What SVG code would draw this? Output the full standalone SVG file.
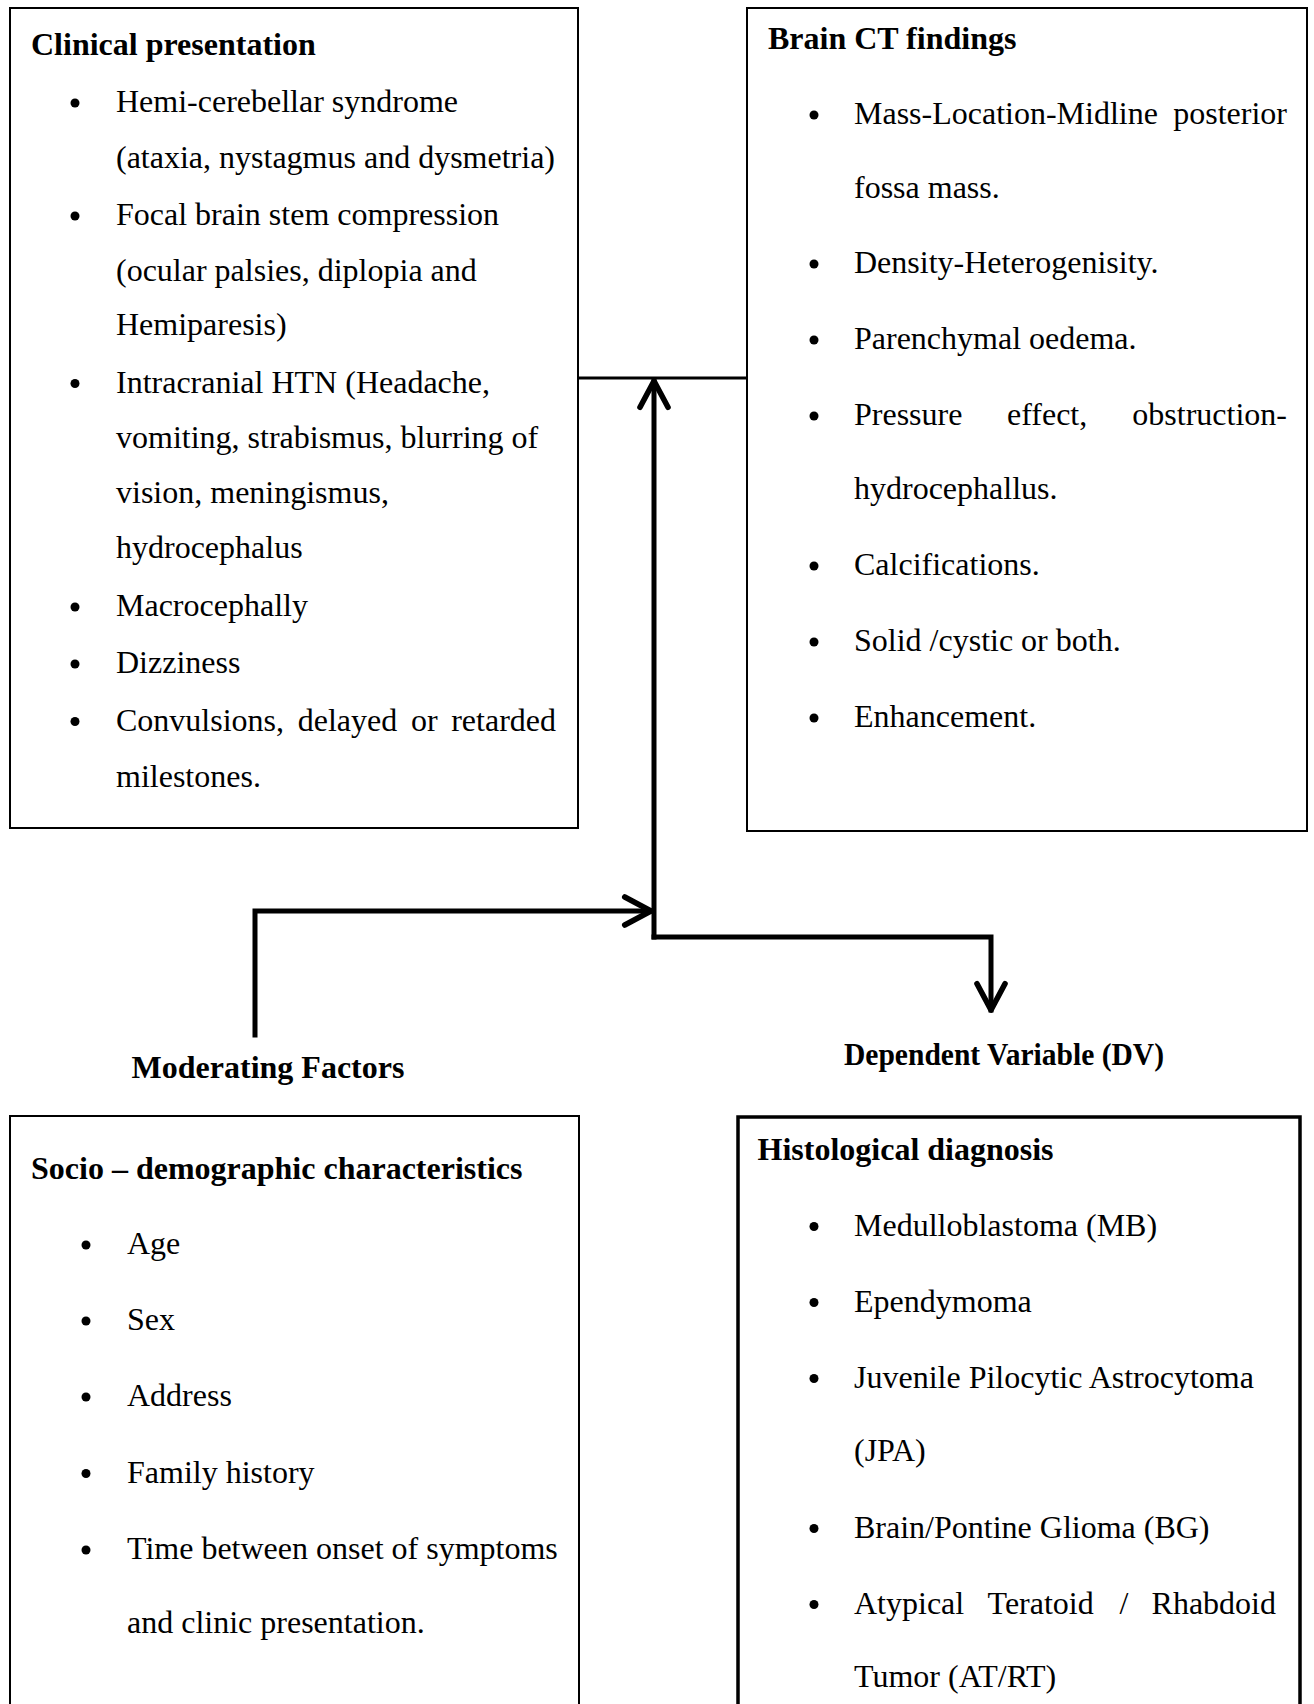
<svg xmlns="http://www.w3.org/2000/svg" width="1314" height="1704" viewBox="0 0 1314 1704">
<style>
text{font-family:"Liberation Serif","Times New Roman",serif;font-size:32px;fill:#000}
.b{font-weight:bold}
.box{fill:#fff;stroke:#000;stroke-width:2}
.box2{fill:#fff;stroke:#000;stroke-width:3.5}
.con{fill:none;stroke:#000;stroke-width:5;stroke-linecap:square;stroke-linejoin:miter}
.thin{fill:none;stroke:#000;stroke-width:3}
.dot{fill:#000}
</style>
<defs>
<marker id="chev" viewBox="0 0 20 20" refX="18" refY="10" markerWidth="7" markerHeight="7" markerUnits="strokeWidth" orient="auto">
<path d="M3,2 L18,10 L3,18" fill="none" stroke="#000" stroke-width="3.2" stroke-linecap="round" stroke-linejoin="round"/>
</marker>
</defs>
<rect width="1314" height="1704" fill="#fff"/>

<g id="clinical">
<rect class="box" x="10" y="8" width="568" height="820"/>
<text class="b" x="31" y="55">Clinical presentation</text>
<circle class="dot" cx="75" cy="103" r="4.5"/>
<text x="116" y="112">Hemi-cerebellar syndrome</text>
<text x="116" y="167.5">(ataxia, nystagmus and dysmetria)</text>
<circle class="dot" cx="75" cy="216" r="4.5"/>
<text x="116" y="225">Focal brain stem compression</text>
<text x="116" y="280.5">(ocular palsies, diplopia and</text>
<text x="116" y="335">Hemiparesis)</text>
<circle class="dot" cx="75" cy="383.5" r="4.5"/>
<text x="116" y="392.5">Intracranial HTN (Headache,</text>
<text x="116" y="448">vomiting, strabismus, blurring of</text>
<text x="116" y="503">vision, meningismus,</text>
<text x="116" y="557.5">hydrocephalus</text>
<circle class="dot" cx="75" cy="607" r="4.5"/>
<text x="116" y="616">Macrocephally</text>
<circle class="dot" cx="75" cy="664" r="4.5"/>
<text x="116" y="673">Dizziness</text>
<circle class="dot" cx="75" cy="721.5" r="4.5"/>
<text y="730.5"><tspan x="116">Convulsions,</tspan><tspan x="297.7">delayed</tspan><tspan x="411">or</tspan><tspan x="556" text-anchor="end">retarded</tspan></text>
<text x="116" y="787">milestones.</text>
</g>

<g id="brainct">
<rect class="box" x="747" y="8" width="560" height="823"/>
<text class="b" x="768" y="49">Brain CT findings</text>
<circle class="dot" cx="814" cy="115" r="4.5"/>
<text y="124"><tspan x="854">Mass-Location-Midline</tspan><tspan x="1287" text-anchor="end">posterior</tspan></text>
<text x="854" y="198">fossa mass.</text>
<circle class="dot" cx="814" cy="264" r="4.5"/>
<text x="854" y="273">Density-Heterogenisity.</text>
<circle class="dot" cx="814" cy="340" r="4.5"/>
<text x="854" y="349">Parenchymal oedema.</text>
<circle class="dot" cx="814" cy="416" r="4.5"/>
<text y="425"><tspan x="854">Pressure</tspan><tspan x="1007">effect,</tspan><tspan x="1287" text-anchor="end">obstruction-</tspan></text>
<text x="854" y="499">hydrocephallus.</text>
<circle class="dot" cx="814" cy="566" r="4.5"/>
<text x="854" y="575">Calcifications.</text>
<circle class="dot" cx="814" cy="642" r="4.5"/>
<text x="854" y="651">Solid /cystic or both.</text>
<circle class="dot" cx="814" cy="718" r="4.5"/>
<text x="854" y="727">Enhancement.</text>
</g>

<g id="moderating">
<text class="b" x="268" y="1078" text-anchor="middle">Moderating Factors</text>
</g>

<g id="dv">
<text class="b" x="1004" y="1065" text-anchor="middle" textLength="320" lengthAdjust="spacingAndGlyphs">Dependent Variable (DV)</text>
</g>

<g id="socio">
<rect class="box" x="10" y="1116" width="569" height="620"/>
<text class="b" x="31" y="1179">Socio – demographic characteristics</text>
<circle class="dot" cx="86" cy="1245" r="4.5"/>
<text x="127" y="1254">Age</text>
<circle class="dot" cx="86" cy="1321" r="4.5"/>
<text x="127" y="1330">Sex</text>
<circle class="dot" cx="86" cy="1397" r="4.5"/>
<text x="127" y="1406">Address</text>
<circle class="dot" cx="86" cy="1473.5" r="4.5"/>
<text x="127" y="1482.5">Family history</text>
<circle class="dot" cx="86" cy="1550" r="4.5"/>
<text x="127" y="1559">Time between onset of symptoms</text>
<text x="127" y="1632.5">and clinic presentation.</text>
</g>

<g id="histological">
<rect class="box2" x="738" y="1117" width="562" height="620"/>
<text class="b" x="757.5" y="1159.5">Histological diagnosis</text>
<circle class="dot" cx="814" cy="1226.5" r="4.5"/>
<text x="854" y="1235.5">Medulloblastoma (MB)</text>
<circle class="dot" cx="814" cy="1302.5" r="4.5"/>
<text x="854" y="1311.5">Ependymoma</text>
<circle class="dot" cx="814" cy="1378.5" r="4.5"/>
<text x="854" y="1387.5">Juvenile Pilocytic Astrocytoma</text>
<text x="854" y="1460.5">(JPA)</text>
<circle class="dot" cx="814" cy="1528.5" r="4.5"/>
<text x="854" y="1537.5">Brain/Pontine Glioma (BG)</text>
<circle class="dot" cx="814" cy="1604.5" r="4.5"/>
<text y="1613.5"><tspan x="854">Atypical</tspan><tspan x="987.6">Teratoid</tspan><tspan x="1119.4">/</tspan><tspan x="1276" text-anchor="end">Rhabdoid</tspan></text>
<text x="854" y="1686.5">Tumor (AT/RT)</text>
</g>

<g id="connectors">
<line class="thin" x1="578" y1="378" x2="747" y2="378"/>
<path class="con" d="M654,937 L654,381" marker-end="url(#chev)"/>
<path class="con" d="M255,1035 L255,911 L651,911" marker-end="url(#chev)"/>
<path class="con" d="M654,937 L991,937 L991,1010" marker-end="url(#chev)"/>
</g>
</svg>
